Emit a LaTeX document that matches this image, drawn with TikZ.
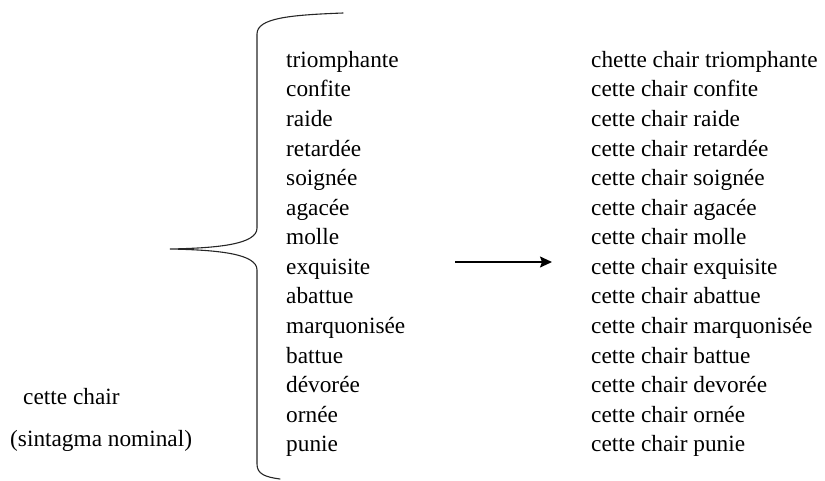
\documentclass[tikz,border=0pt]{standalone}
\usepackage{fontspec}
\setmainfont{Liberation Serif}
\usetikzlibrary{arrows.meta}
\begin{document}
\begin{tikzpicture}[x=1pt,y=-1pt,
  word/.style={anchor=base west,inner sep=0pt,font=\fontsize{23.3}{28}\selectfont},
  brace/.style={line width=1.1pt,line cap=round,draw=black!85},
  arr/.style={line width=1.6pt,-{Stealth[length=12pt,width=11pt,inset=2pt]}}]
\useasboundingbox (0,0) rectangle (825,480);
% left labels
\node[word] (sn) at (23,404.5) {cette chair};
\node[word] (sn2) at (10,446) {(sintagma nominal)};
% brace
\draw[brace] (343,13) .. controls (290,15) and (257,18) .. (257,34)
  -- (257,228) .. controls (257,244) and (220,248) .. (170,249)
  .. controls (220,250) and (257,254) .. (257,270)
  -- (257,464) .. controls (257,474) and (265,477) .. (280,479);
% middle column
\foreach \w [count=\i] in {triomphante,confite,raide,retardée,soignée,agacée,molle,exquisite,abattue,marquonisée,battue,dévorée,ornée,punie}
  \node[word] (m\i) at (286,{67.3+(\i-1)*29.57}) {\w};
% right column
\node[word] (r1) at (591,67.3) {chette chair triomphante};
\foreach \w [count=\i from 2] in {confite,raide,retardée,soignée,agacée,molle,exquisite,abattue,marquonisée,battue,devorée,ornée,punie}
  \node[word] (r\i) at (591,{67.3+(\i-1)*29.57}) {cette chair \w};
% arrow
\coordinate (a1) at (455,262);
\coordinate (a2) at (552,262);
\draw[arr] (a1) -- (a2);
\end{tikzpicture}
\end{document}
